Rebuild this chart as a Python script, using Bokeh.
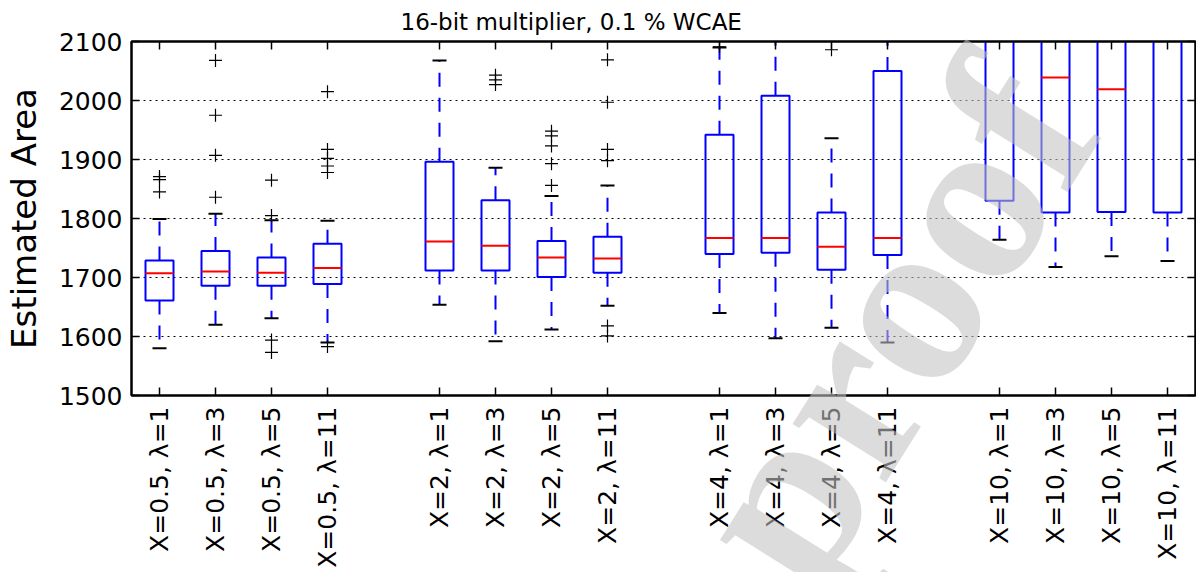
import math
from bokeh.plotting import figure
from bokeh.layouts import column
from bokeh.models import ColumnDataSource, FixedTicker, LinearAxis, Range1d, Label
from bokeh.embed import file_html
from bokeh.resources import INLINE

# ---------------- data ----------------
x_values = ["0.5", "2", "4", "10"]
lambdas = ["1", "3", "5", "11"]
categories = [f"X={xv}, λ={lv}" for xv in x_values for lv in lambdas]

whisker_low = [1580, 1620, 1631, 1590,
               1654, 1592, 1612, 1652,
               1640, 1597, 1615, 1590,
               1764, 1718, 1736, 1728]
q1 = [1661, 1686, 1686, 1689,
      1712, 1712, 1701, 1708,
      1740, 1742, 1713, 1738,
      1830, 1810, 1811, 1810]
median = [1707, 1710, 1708, 1716,
          1761, 1754, 1734, 1732,
          1767, 1767, 1752, 1767,
          2150, 2039, 2019, 2130]
q3 = [1729, 1745, 1734, 1757,
      1896, 1831, 1762, 1769,
      1942, 2008, 1810, 2050,
      2300, 2250, 2200, 2300]
whisker_high = [1799, 1808, 1797, 1796,
                2068, 1886, 1838, 1856,
                2090, 2140, 1936, 2150,
                2500, 2400, 2400, 2500]
fliers = [[1871, 1866, 1845],
          [2068, 1975, 1907, 1836],
          [1865, 1805, 1594, 1573],
          [2015, 1917, 1902, 1889, 1878, 1583],
          [],
          [2043, 2035, 2027],
          [1948, 1940, 1923, 1893, 1856],
          [2069, 1997, 1917, 1898, 1618, 1601],
          [2091],
          [],
          [2086],
          [],
          [], [], [], []]

y_ticks = [1500, 1600, 1700, 1800, 1900, 2000, 2100]
title_text = "16-bit multiplier, 0.1 % WCAE"
y_label = "Estimated Area"
watermark = "proof"

# ---------------- layout helpers ----------------
W, H = 1196, 572
positions = [g * 5 + i + 1 for g in range(len(x_values)) for i in range(len(lambdas))]
box_half = 0.25
cap_half = 0.125

src = ColumnDataSource(dict(
    pos=positions,
    left=[p_ - box_half for p_ in positions],
    right=[p_ + box_half for p_ in positions],
    cap_l=[p_ - cap_half for p_ in positions],
    cap_r=[p_ + cap_half for p_ in positions],
    lo=whisker_low, q1=q1, med=median, q3=q3, hi=whisker_high,
))
fx, fy = [], []
for p_, fl in zip(positions, fliers):
    for v in fl:
        fx.append(p_)
        fy.append(v)
fsrc = ColumnDataSource(dict(x=fx, y=fy))

FONT = "DejaVu Sans"

p = figure(width=W, height=H, output_backend="svg", toolbar_location=None,
           x_range=Range1d(0.5, 19.5), y_range=Range1d(1500, 2100),
           min_border_left=128, min_border_right=1, min_border_top=40,
           min_border_bottom=177)
p.background_fill_color = "white"
p.border_fill_color = "white"
p.outline_line_color = "black"
p.outline_line_width = 2

# title
p.title.text = title_text
p.title.align = "left"
p.title.offset = 269
p.title.text_font = FONT
p.title.text_font_size = "23px"
p.title.text_font_style = "normal"
p.title.text_color = "black"
p.title.standoff = 13

# x axis
xa = p.xaxis[0]
xa.ticker = FixedTicker(ticks=positions)
xa.major_label_overrides = {p_: c for p_, c in zip(positions, categories)}
xa.major_label_orientation = math.pi / 2
xa.major_label_text_font = FONT
xa.major_label_text_font_size = "25px"
xa.major_label_text_color = "black"
xa.major_label_standoff = 11
xa.major_tick_in = 8
xa.major_tick_out = 0
xa.minor_tick_in = 0
xa.minor_tick_out = 0
xa.axis_line_width = 2
xa.major_tick_line_width = 1.5

# y axis
ya = p.yaxis[0]
ya.ticker = FixedTicker(ticks=y_ticks)
ya.major_label_text_font = FONT
ya.major_label_text_font_size = "25px"
ya.major_label_text_color = "black"
ya.major_label_standoff = 9
ya.major_tick_in = 8
ya.major_tick_out = 0
ya.minor_tick_in = 0
ya.minor_tick_out = 0
ya.axis_line_width = 2
ya.major_tick_line_width = 1.5
ya.axis_label = y_label
ya.axis_label_text_font = FONT
ya.axis_label_text_font_size = "34px"
ya.axis_label_text_font_style = "normal"
ya.axis_label_text_color = "black"
ya.axis_label_standoff = 12

# mirror ticks on top and right (no labels)
top = LinearAxis(ticker=FixedTicker(ticks=positions), major_label_text_font_size="1px",
                 major_label_text_color=None, major_label_standoff=0,
                 major_tick_in=8, major_tick_out=0, minor_tick_in=0, minor_tick_out=0,
                 axis_line_width=2, major_tick_line_width=1.5)
p.add_layout(top, "above")
right = LinearAxis(ticker=FixedTicker(ticks=y_ticks), major_label_text_font_size="1px",
                   major_label_text_color=None, major_label_standoff=0,
                   major_tick_in=8, major_tick_out=0, minor_tick_in=0, minor_tick_out=0,
                   axis_line_width=2, major_tick_line_width=1.5)
p.add_layout(right, "right")

# grid
p.xgrid.visible = False
p.ygrid.grid_line_color = "black"
p.ygrid.grid_line_dash = "2 4"
p.ygrid.grid_line_width = 1

# boxes
p.segment(x0="pos", y0="q3", x1="pos", y1="hi", source=src,
          line_color="blue", line_width=2, line_dash="14 11")
p.segment(x0="pos", y0="q1", x1="pos", y1="lo", source=src,
          line_color="blue", line_width=2, line_dash="14 11")
p.quad(left="left", right="right", bottom="q1", top="q3", source=src,
       fill_alpha=0, line_color="blue", line_width=2)
p.segment(x0="cap_l", y0="hi", x1="cap_r", y1="hi", source=src,
          line_color="black", line_width=2)
p.segment(x0="cap_l", y0="lo", x1="cap_r", y1="lo", source=src,
          line_color="black", line_width=2)
p.segment(x0="left", y0="med", x1="right", y1="med", source=src,
          line_color="red", line_width=2)
p.scatter(x="x", y="y", source=fsrc, marker="cross", size=13,
          line_color="black", line_width=1.2)

# watermark overlay: a transparent figure laid over the chart
wm_fig = figure(width=W, height=H, output_backend="svg", toolbar_location=None,
                x_range=Range1d(0, W), y_range=Range1d(0, H),
                x_axis_location=None, y_axis_location=None, min_border=0)
wm_fig.outline_line_color = None
wm_fig.background_fill_alpha = 0
wm_fig.border_fill_alpha = 0
wm_fig.xgrid.visible = False
wm_fig.ygrid.visible = False
wm_fig.styles = {"margin-top": f"-{H}px"}
wm = Label(x=853, y=H - 322, text=watermark,
           angle=math.radians(58), text_align="center", text_baseline="middle",
           text_font="Liberation Serif", text_font_style="bold",
           text_font_size="240px", text_color="#c2c2c2", text_alpha=0.58)
wm_fig.add_layout(wm)

layout = column(p, wm_fig, spacing=0)
open("out.html", "w").write(file_html(layout, INLINE))
